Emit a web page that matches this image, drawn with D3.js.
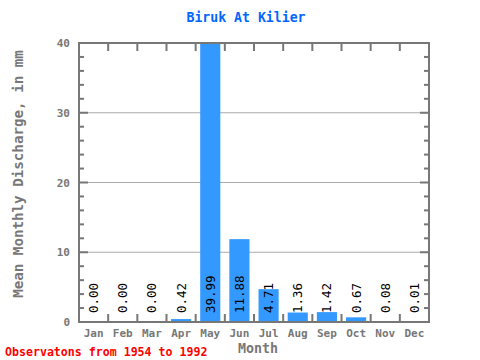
<!DOCTYPE html>
<html><head><meta charset="utf-8">
<script src="https://cdn.jsdelivr.net/npm/d3@7"></script>
<style>body{margin:0;background:#fff}svg{display:block}</style>
</head><body>
<script>
const months = ["Jan","Feb","Mar","Apr","May","Jun","Jul","Aug","Sep","Oct","Nov","Dec"];
const values = [0.00,0.00,0.00,0.42,39.99,11.88,4.71,1.36,1.42,0.67,0.08,0.01];
const yTicks = [0,10,20,30,40];
const title = "Biruk At Kilier";
const yLabel = "Mean Monthly Discharge, in mm";
const xLabel = "Month";
const footer = "Observatons from 1954 to 1992";

const W=480,H=360, L=79, R=429, T=43, B=322;
const font = "'DejaVu Sans Mono', monospace";
const grey = "#777";
const svg = d3.select("body").append("svg").attr("width",W).attr("height",H);

const x = d3.scaleBand().domain(months).range([L,R]).paddingInner(0.31).paddingOuter(0.155);
const y = d3.scaleLinear().domain([0,40]).range([B,T]);

// gridlines
svg.append("g").selectAll("line").data([10,20,30]).join("line")
  .attr("x1",L).attr("x2",R).attr("y1",d=>y(d)).attr("y2",d=>y(d))
  .attr("stroke","#aaa").attr("stroke-width",1);

// bars
svg.append("g").selectAll("rect").data(values).join("rect")
  .attr("x",(d,i)=>x(months[i])).attr("width",x.bandwidth())
  .attr("y",d=>y(d)).attr("height",d=>B-y(d)).attr("fill","#3399ff");

// axes
const step = (R-L)/12;
const bounds = d3.range(1,12).map(i=>L+i*step);
const minor = d3.range(2,40,2);
const ax = svg.append("g").attr("stroke",grey);
ax.append("rect").attr("x",L).attr("y",T).attr("width",R-L).attr("height",B-T)
  .attr("fill","none").attr("stroke-width",2);
ax.selectAll(".tt").data(bounds).join("line").attr("x1",d=>d).attr("x2",d=>d)
  .attr("y1",T).attr("y2",T+8).attr("stroke-width",2);
ax.selectAll(".bt").data(bounds).join("line").attr("x1",d=>d).attr("x2",d=>d)
  .attr("y1",B).attr("y2",B-8).attr("stroke-width",2);
ax.selectAll(".lm").data(minor).join("line").attr("x1",L).attr("x2",d=>L+(d%10===0?9:5))
  .attr("y1",d=>y(d)).attr("y2",d=>y(d)).attr("stroke-width",2);
ax.selectAll(".rm").data(minor).join("line").attr("x1",R).attr("x2",d=>R-(d%10===0?9:5))
  .attr("y1",d=>y(d)).attr("y2",d=>y(d)).attr("stroke-width",2);

// y tick labels
svg.append("g").selectAll("text").data(yTicks).join("text")
  .attr("x",L-9).attr("y",d=>y(d)+4).attr("text-anchor","end")
  .attr("font-family",font).attr("font-size",11).attr("font-weight","bold").attr("fill",grey)
  .text(d=>d);

// x tick labels
svg.append("g").selectAll("text").data(months).join("text")
  .attr("x",d=>x(d)+x.bandwidth()/2).attr("y",337).attr("text-anchor","middle")
  .attr("font-family",font).attr("font-size",11).attr("font-weight","bold").attr("fill",grey)
  .text(d=>d);

// value labels
svg.append("g").selectAll("text").data(values).join("text")
  .attr("transform",(d,i)=>`translate(${x(months[i])+x.bandwidth()/2+4.5},${B-9}) rotate(-90)`)
  .attr("font-family",font).attr("font-size",12.5).attr("fill","#000")
  .text(d=>d.toFixed(2));

// title
svg.append("text").attr("x",246).attr("y",22).attr("text-anchor","middle")
  .attr("font-family",font).attr("font-size",13.2).attr("font-weight","bold").attr("fill","#0066ff")
  .text(title);
// x label
svg.append("text").attr("x",258).attr("y",353).attr("text-anchor","middle")
  .attr("font-family",font).attr("font-size",13.3).attr("font-weight","bold").attr("fill",grey)
  .text(xLabel);
// y label
svg.append("text").attr("transform",`translate(23,174) rotate(-90)`).attr("text-anchor","middle")
  .attr("font-family",font).attr("font-size",14.2).attr("font-weight","bold").attr("fill",grey)
  .text(yLabel);
// footer
svg.append("text").attr("x",5).attr("y",356)
  .attr("font-family",font).attr("font-size",11.6).attr("font-weight","bold").attr("fill","#ff0000")
  .text(footer);
</script>
</body></html>
